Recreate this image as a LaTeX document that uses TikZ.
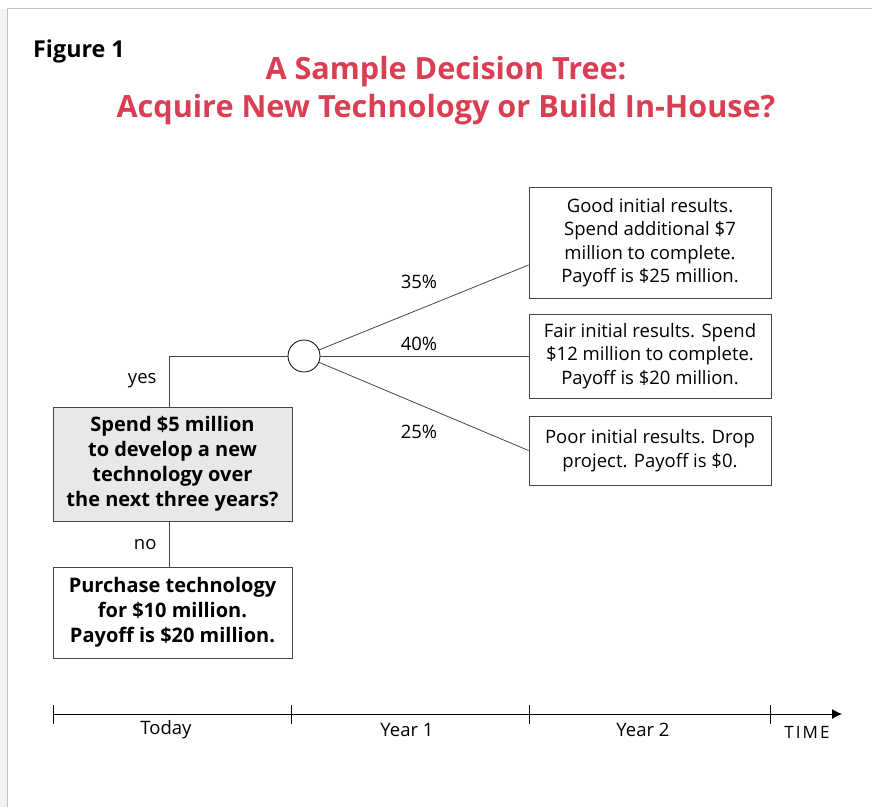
\documentclass[tikz,border=0pt]{standalone}
\usepackage{fontspec}
\setmainfont{Open Sans}
\usepackage{xcolor}
\usetikzlibrary{arrows.meta, positioning, calc}
\definecolor{titlered}{RGB}{218,62,82}
\definecolor{linegray}{RGB}{70,70,70}
\definecolor{boxfill}{RGB}{232,232,232}
\definecolor{framegray}{RGB}{196,196,196}
\tikzset{
  outcome/.style={rectangle, draw=linegray, thick, fill=white, align=center,
                  font=\fontsize{18.5}{23.5}\selectfont, inner sep=0pt},
  choice/.style={rectangle, draw=linegray, thick, align=center,
                 font=\fontsize{20}{25}\selectfont\bfseries, inner sep=0pt},
  chance/.style={circle, draw=black, thick, fill=white, minimum size=32pt, inner sep=0pt},
  branch/.style={draw=linegray, thick},
  prob/.style={font=\fontsize{18.5}{22}\selectfont},
  period/.style={font=\fontsize{18.5}{22}\selectfont},
}
\newcommand{\tick}[1]{\draw[thick] ($(#1)+(0,-9)$) -- ($(#1)+(0,10)$);}

\begin{document}
\begin{tikzpicture}[x=1pt, y=-1pt]
\useasboundingbox (0,0) rectangle (872,807);
% ramka strony
\fill[gray!10] (0,8.5) rectangle (7,807);
\draw[framegray, thick] (872,8.5) -- (7,8.5) -- (7,807);

% naglowek
\node[anchor=base west, inner sep=0pt, font=\fontsize{23.3}{28}\selectfont\bfseries] (fig) at (33,57.5) {Figure 1};
\node[align=center, text=titlered, font=\fontsize{30.6}{38}\selectfont\bfseries] (title) at (446,91)
  {A Sample Decision Tree:\\Acquire New Technology or Build In-House?};

% decyzja
\node[choice, fill=boxfill, minimum width=239pt, minimum height=114pt] (decide) at (172.5,464)
  {Spend \$5 million\\to develop a new\\technology over\\the next three years?};
\node[choice, fill=white, minimum width=239pt, minimum height=91pt] (buy) at (172.5,612.5)
  {Purchase technology\\for \$10 million.\\Payoff is \$20 million.};
\coordinate (turn) at (169,356);
\node[chance] (node1) at (304,356) {};

% wyniki
\node[outcome, minimum width=242pt, minimum height=111pt] (good) at (650,242.5)
  {Good initial results.\\Spend additional \$7\\million to complete.\\Payoff is \$25 million.};
\node[outcome, minimum width=242pt, minimum height=84pt] (fair) at (650,356)
  {Fair initial results. Spend\\\$12 million to complete.\\Payoff is \$20 million.};
\node[outcome, minimum width=242pt, minimum height=69pt] (poor) at (650,450.5)
  {Poor initial results. Drop\\project. Payoff is \$0.};

% galezie
\draw[branch] (decide.north -| turn) -- (turn) -- (node1);
\draw[branch] (decide.south -| turn) -- (buy.north -| turn);
\draw[branch] (node1) -- ($(good.west)+(0,22.5)$);
\draw[branch] (node1) -- (fair.west);
\draw[branch] (node1) -- (poor.west);
\node[prob, anchor=east] (yes) at (160,381) {yes};
\node[prob, anchor=east] (no) at (160,545) {no};
\node[prob] (p35) at (419,282) {35\%};
\node[prob] (p40) at (419,344) {40\%};
\node[prob] (p25) at (419,432) {25\%};

% os czasu
\coordinate (t0) at (53,714);
\coordinate (t1) at (291,714);
\coordinate (t2) at (529,714);
\coordinate (t3) at (770,714);
\coordinate (tend) at (842,714);
\draw[thick, -{Latex[length=10pt, width=10pt]}] (t0) -- (tend);
\foreach \t in {t0,t1,t2,t3} {\tick{\t}}
\node[period] (today) at (166,730) {Today};
\node[period] (year1) at (407,730) {Year 1};
\node[period] (year2) at (643,730) {Year 2};
\node[period, font=\fontsize{17}{20}\selectfont\addfontfeature{LetterSpace=12}] (time) at (807,732) {TIME};

\end{tikzpicture}
\end{document}
